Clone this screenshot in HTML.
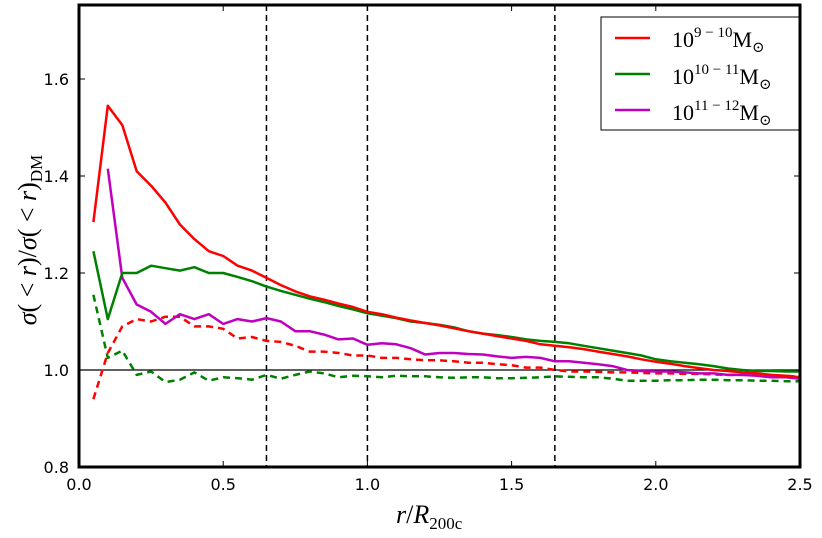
<!DOCTYPE html>
<html><head><meta charset="utf-8"><style>
body{margin:0;background:#fff;}
svg text{font-family:"DejaVu Sans","Liberation Sans",sans-serif;}
.m{font-family:"Liberation Serif","DejaVu Serif",serif;}
</style></head><body>
<svg id="chart" width="822" height="533" viewBox="0 0 822 533" xmlns="http://www.w3.org/2000/svg">
<g id="plot"></g>
</svg>
<script>
const xVals=[0.05,0.1,0.15,0.2,0.25,0.3,0.35,0.4,0.45,0.5,0.55,0.6,0.65,0.7,0.75,0.8,0.85,0.9,0.95,1.0,1.05,1.1,1.15,1.2,1.25,1.3,1.35,1.4,1.45,1.5,1.55,1.6,1.65,1.7,1.75,1.8,1.85,1.9,1.95,2.0,2.05,2.1,2.15,2.2,2.25,2.3,2.35,2.4,2.45,2.5];
const redSolid=[1.305,1.545,1.505,1.41,1.38,1.345,1.30,1.27,1.245,1.235,1.215,1.205,1.19,1.175,1.162,1.152,1.145,1.137,1.13,1.12,1.115,1.108,1.102,1.097,1.092,1.086,1.08,1.075,1.07,1.065,1.06,1.053,1.05,1.047,1.043,1.038,1.033,1.028,1.022,1.017,1.013,1.008,1.004,1.0,0.998,0.995,0.993,0.99,0.988,0.985];
const greenSolid=[1.245,1.105,1.2,1.2,1.215,1.21,1.205,1.212,1.2,1.2,1.192,1.183,1.172,1.163,1.155,1.147,1.14,1.132,1.125,1.117,1.112,1.107,1.1,1.097,1.093,1.088,1.08,1.075,1.072,1.068,1.063,1.06,1.058,1.055,1.05,1.045,1.04,1.035,1.03,1.022,1.018,1.015,1.012,1.008,1.003,1.0,0.998,0.998,0.997,0.997];
const magentaSolid=[null,1.415,1.19,1.135,1.12,1.095,1.115,1.105,1.115,1.095,1.105,1.1,1.107,1.1,1.08,1.08,1.073,1.063,1.065,1.052,1.055,1.053,1.045,1.032,1.035,1.035,1.033,1.032,1.028,1.025,1.027,1.025,1.018,1.018,1.015,1.012,1.008,1.0,0.998,0.997,0.997,0.995,0.993,0.993,0.99,0.99,0.988,0.985,0.985,0.982];
const redDashed=[0.94,1.035,1.09,1.105,1.1,1.11,1.11,1.09,1.09,1.085,1.065,1.068,1.06,1.058,1.05,1.038,1.038,1.035,1.03,1.03,1.025,1.025,1.022,1.02,1.02,1.018,1.015,1.015,1.012,1.01,1.005,1.005,1.0,0.997,0.997,0.996,0.995,0.995,0.994,0.993,0.993,0.992,0.992,0.991,0.99,0.99,0.99,0.988,0.988,0.986];
const greenDashed=[1.155,1.025,1.04,0.99,0.997,0.975,0.98,0.995,0.978,0.985,0.983,0.98,0.99,0.982,0.99,0.997,0.993,0.985,0.988,0.987,0.985,0.988,0.987,0.987,0.985,0.984,0.985,0.985,0.983,0.983,0.984,0.985,0.987,0.986,0.985,0.985,0.982,0.978,0.978,0.978,0.979,0.979,0.98,0.98,0.979,0.979,0.978,0.978,0.977,0.977];
const xTicks=[0,0.5,1.0,1.5,2.0,2.5];
const xTickLabels=["0.0","0.5","1.0","1.5","2.0","2.5"];
const yTicks=[0.8,1.0,1.2,1.4,1.6];
const yTickLabels=["0.8","1.0","1.2","1.4","1.6"];
const vLines=[0.65,1.0,1.65];

const L=79,R=800,T=5,B=467,xmin=0,xmax=2.5,ymin=0.8,ymax=1.7526;
const sx=v=>L+(v-xmin)/(xmax-xmin)*(R-L);
const sy=v=>B-(v-ymin)/(ymax-ymin)*(B-T);
const NS="http://www.w3.org/2000/svg";
const g=document.getElementById('plot');
function mk(t,a,p){const e=document.createElementNS(NS,t);for(const k in a)e.setAttribute(k,a[k]);(p||g).appendChild(e);return e;}

mk('rect',{x:0,y:0,width:822,height:533,fill:'#fff'});
vLines.forEach(v=>{const e=mk('line',{x1:sx(v),x2:sx(v),y1:T,y2:B,stroke:'#000','stroke-width':1.5,'stroke-dasharray':'6,4'});

});
const h=mk('line',{x1:L,x2:R,y1:sy(1),y2:sy(1),stroke:'#000','stroke-width':1.2});



function series(arr,color,dash,name){
  let d='';arr.forEach((v,i)=>{if(v==null)return;d+=(d?'L':'M')+sx(xVals[i]).toFixed(1)+','+sy(v).toFixed(1);});
  const e=mk('path',{d:d,fill:'none',stroke:color,'stroke-width':2.5,'stroke-dasharray':dash||'none','stroke-linejoin':'round'});
  
  
}
series(redDashed,'#ff0000','7,5','series-red-dashed');
series(greenDashed,'#008000','7,5','series-green-dashed');
series(magentaSolid,'#bf00bf',null,'series-magenta');
series(greenSolid,'#008000',null,'series-green');
series(redSolid,'#ff0000',null,'series-red');

xTicks.forEach((v,i)=>{
  mk('line',{x1:sx(v),x2:sx(v),y1:B,y2:B-6,stroke:'#000','stroke-width':1});
  mk('line',{x1:sx(v),x2:sx(v),y1:T,y2:T+6,stroke:'#000','stroke-width':1});
  const t=mk('text',{x:sx(v),y:B+23,'text-anchor':'middle','font-size':16});t.textContent=xTickLabels[i];
  
  
});
yTicks.forEach((v,i)=>{
  mk('line',{x1:L,x2:L+6,y1:sy(v),y2:sy(v),stroke:'#000','stroke-width':1});
  mk('line',{x1:R,x2:R-6,y1:sy(v),y2:sy(v),stroke:'#000','stroke-width':1});
  const t=mk('text',{x:L-10,y:sy(v)+6,'text-anchor':'end','font-size':16});t.textContent=yTickLabels[i];
  
  
});
const fr=mk('rect',{x:L,y:T,width:R-L,height:B-T,fill:'none',stroke:'#000','stroke-width':3});


</script>
<svg style="position:absolute;left:0;top:0" width="822" height="533">
<g>
<rect x="601" y="17" width="198" height="113" fill="#fff" stroke="#000" stroke-width="1"/>
<line x1="615" y1="38" x2="650" y2="38" stroke="#ff0000" stroke-width="2.5"/>
<text class="m" x="672" y="47" font-size="22">10<tspan font-size="15" dy="-10">9 − 10</tspan><tspan dy="10">M</tspan><tspan font-size="15" dy="5">⊙</tspan></text>
<line x1="615" y1="74" x2="650" y2="74" stroke="#008000" stroke-width="2.5"/>
<text class="m" x="672" y="84" font-size="22">10<tspan font-size="15" dy="-10">10 − 11</tspan><tspan dy="10">M</tspan><tspan font-size="15" dy="5">⊙</tspan></text>
<line x1="615" y1="110" x2="650" y2="110" stroke="#bf00bf" stroke-width="2.5"/>
<text class="m" x="672" y="120" font-size="22">10<tspan font-size="15" dy="-10">11 − 12</tspan><tspan dy="10">M</tspan><tspan font-size="15" dy="5">⊙</tspan></text>
</g>
<text class="m" x="396" y="523" font-size="26" font-style="italic">r<tspan font-style="normal">/</tspan>R<tspan font-size="17" font-style="normal" dy="6">200c</tspan></text>
<text class="m" transform="translate(36,240) rotate(-90)" text-anchor="middle" font-size="26"><tspan font-style="italic">σ</tspan>( &lt; <tspan font-style="italic">r</tspan>)/<tspan font-style="italic">σ</tspan>( &lt; <tspan font-style="italic">r</tspan>)<tspan font-size="17" dy="6">DM</tspan></text>
</svg>
</body></html>
